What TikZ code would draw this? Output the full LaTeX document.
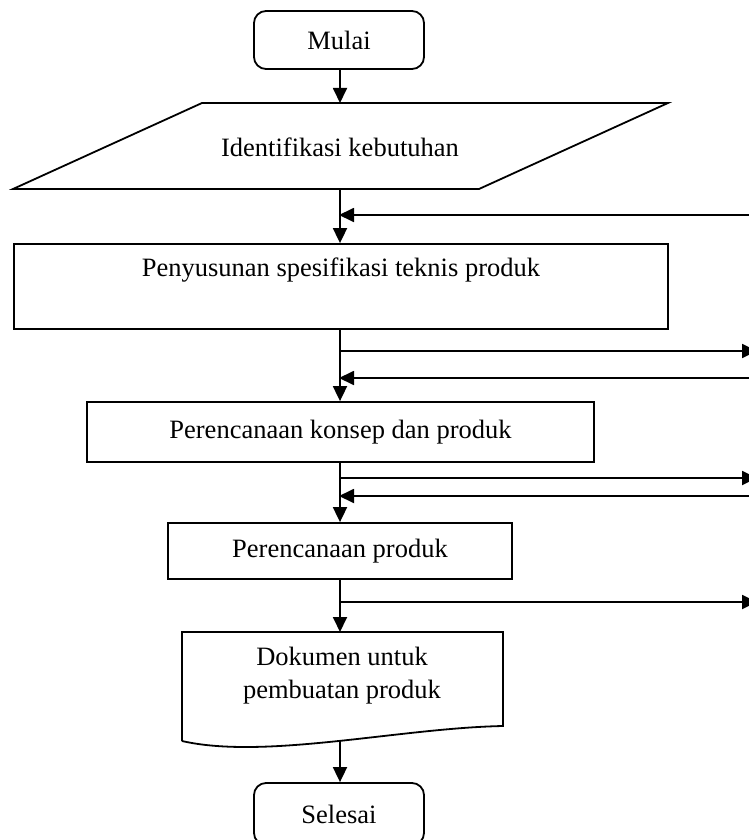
\documentclass[tikz,border=0pt]{standalone}
\usepackage{fontspec}
\setmainfont{Liberation Serif}
\usetikzlibrary{arrows.meta}
\begin{document}
\begin{tikzpicture}[x=1pt,y=-1pt,
  every node/.style={font=\fontsize{26.5}{33}\selectfont},
  line/.style={line width=1.8pt},
  arr/.style={line, -{Triangle[length=15pt,width=14pt]}},
  box/.style={draw, line width=1.8pt, rectangle, inner sep=0pt},
  term/.style={box, rounded corners=12pt, minimum width=170pt, minimum height=58pt},
  txt/.style={inner sep=0pt, align=center}
]
\useasboundingbox (0,0) rectangle (748,840);

% Mulai
\node[term] (mulai) at (339,40) {Mulai};

% Identifikasi kebutuhan (parallelogram)
\draw[line, line join=miter] (202,103) -- (668,103) -- (479,189) -- (13,189) -- cycle;
\node[txt] (ident) at (340,147) {Identifikasi kebutuhan};
\coordinate (identtop) at (340,103);
\coordinate (identbot) at (340,189);

% Penyusunan spesifikasi
\node[box, minimum width=654pt, minimum height=85pt] (spec) at (341,286.5) {};
\node[txt] (spectext) at (341,270) {Penyusunan spesifikasi teknis produk};

% Perencanaan konsep
\node[box, minimum width=507pt, minimum height=60pt] (konsep) at (340.5,432) {Perencanaan konsep dan produk};

% Perencanaan produk
\node[box, minimum width=344pt, minimum height=56pt] (produk) at (340,551) {Perencanaan produk};

% Dokumen
\draw[line, line join=miter] (182,741) -- (182,632) -- (503,632) -- (503,726)
  .. controls (400,728) and (265,760) .. (182,741);
\coordinate (doctop) at (340,632);
\coordinate (docbot) at (340,741);
\node[txt] (doctext) at (342,675.5) {Dokumen untuk\\pembuatan produk};

% Selesai
\node[term, minimum height=62pt] (selesai) at (339,814) {Selesai};

% side connector ends
\coordinate (in1) at (760,215);
\coordinate (out1) at (757,351);
\coordinate (in2) at (760,378);
\coordinate (out2) at (757,478);
\coordinate (in3) at (760,496);
\coordinate (out3) at (757,602);

% main spine
\draw[arr] (mulai.south -| identtop) -- (identtop);
\draw[arr] (identbot) -- (identbot |- spec.north);
\draw[arr] (spec.south -| identbot) -- (identbot |- konsep.north);
\draw[arr] (konsep.south -| identbot) -- (identbot |- produk.north);
\draw[arr] (produk.south -| identbot) -- (doctop);
\draw[arr] (docbot) -- (docbot |- selesai.north);

% side arrows
\draw[arr, shorten >=-1pt] (in1) -- (in1 -| identbot);
\draw[arr] (out1 -| identbot) -- (out1);
\draw[arr, shorten >=-1pt] (in2) -- (in2 -| identbot);
\draw[arr] (out2 -| identbot) -- (out2);
\draw[arr, shorten >=-1pt] (in3) -- (in3 -| identbot);
\draw[arr] (out3 -| identbot) -- (out3);
\end{tikzpicture}
\end{document}
